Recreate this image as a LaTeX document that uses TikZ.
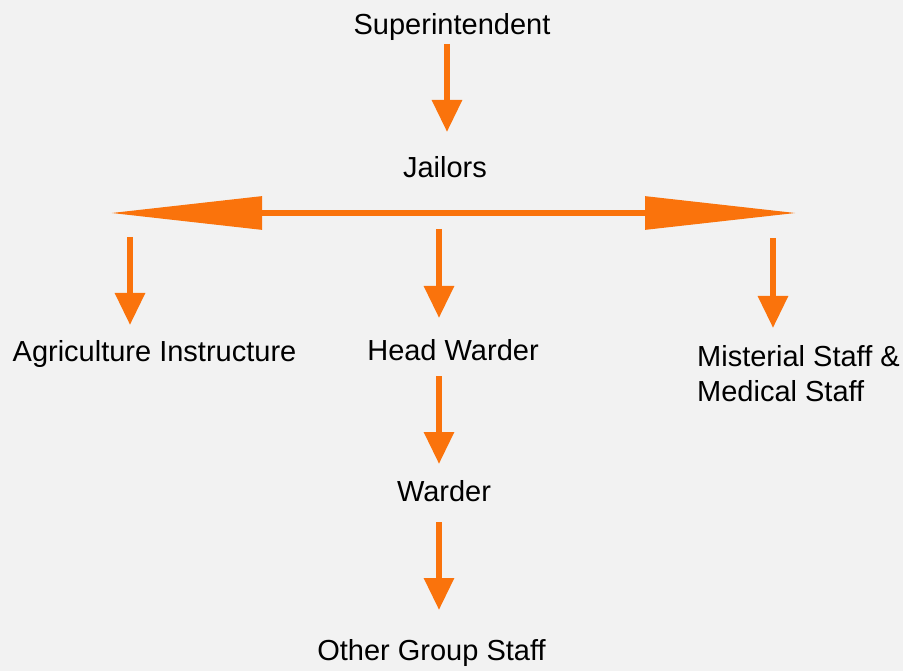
\documentclass[tikz,border=0pt]{standalone}
\usepackage{fontspec}
\setmainfont{Liberation Sans}
\usetikzlibrary{arrows.meta}
\definecolor{bg}{RGB}{242,242,242}
\definecolor{org}{RGB}{250,115,12}
\tikzset{
  lbl/.style={inner sep=0pt, font=\fontsize{29}{35}\selectfont, text=black},
  darr/.style={draw=org, line width=6pt, -{Triangle[length=32pt,width=29pt]}},
  harr/.style={draw=org, line width=6pt, {Triangle[length=152pt,width=32pt]}-{Triangle[length=152pt,width=32pt]}}
}
\begin{document}
\begin{tikzpicture}[x=1pt,y=-1pt]
\fill[bg] (0,0) rectangle (903,671);
\useasboundingbox (0,0) rectangle (903,671);
\node[lbl, anchor=base] (sup) at (452,35) {Superintendent};
\node[lbl, anchor=base] (jail) at (445,178) {Jailors};
\node[lbl, anchor=base] (agri) at (154.5,362) {Agriculture Instructure};
\node[lbl, anchor=base] (head) at (453,360) {Head Warder};
\node[lbl, anchor=base west, align=left] (mis) at (697,401) {Misterial Staff \&\\Medical Staff};
\node[lbl, anchor=base] (ward) at (444,501) {Warder};
\node[lbl, anchor=base] (oth) at (431.5,660) {Other Group Staff};
% connector end points
\coordinate (s1) at (447,44);  \coordinate (e1) at (447,132);
\coordinate (hl) at (110,213); \coordinate (hr) at (797,213);
\coordinate (s2) at (130,237); \coordinate (e2) at (130,325);
\coordinate (s3) at (439,229); \coordinate (e3) at (439,318);
\coordinate (s4) at (773,238); \coordinate (e4) at (773,328);
\coordinate (s5) at (439,376); \coordinate (e5) at (439,464);
\coordinate (s6) at (439,522); \coordinate (e6) at (439,610);
\draw[darr] (s1) -- (e1);
\draw[harr] (hl) -- (hr);
\draw[darr] (s2) -- (e2);
\draw[darr] (s3) -- (e3);
\draw[darr] (s4) -- (e4);
\draw[darr] (s5) -- (e5);
\draw[darr] (s6) -- (e6);
\end{tikzpicture}
\end{document}
